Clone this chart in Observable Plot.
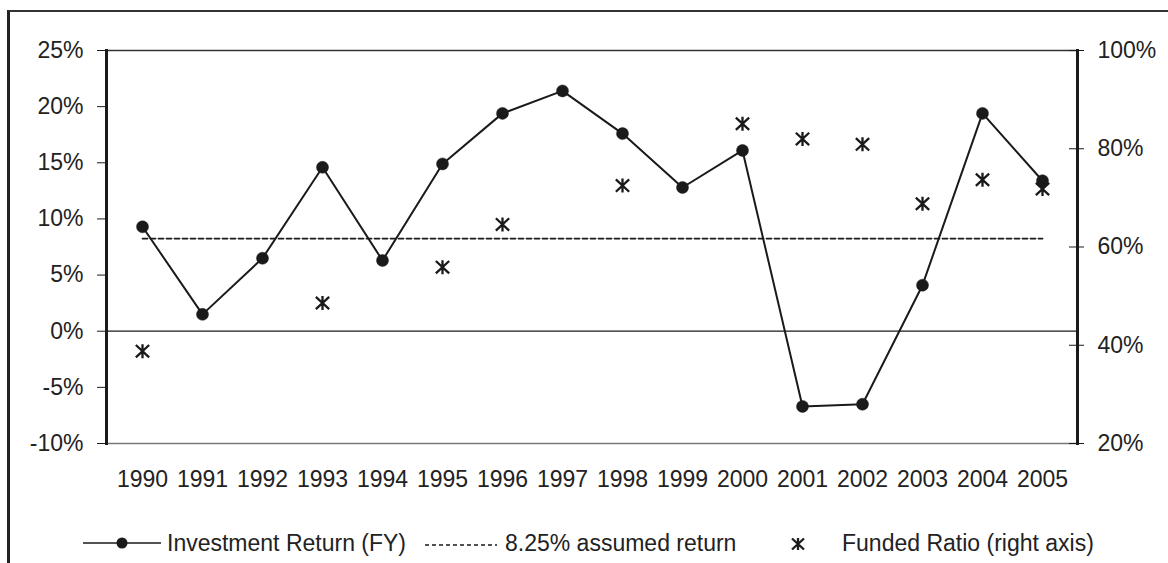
<!DOCTYPE html>
<html>
<head>
<meta charset="utf-8">
<script src="https://cdn.jsdelivr.net/npm/d3@7"></script>
<script src="https://cdn.jsdelivr.net/npm/@observablehq/plot@0.6"></script>
<style>
  html, body { margin: 0; padding: 0; background: #fff; }
  #wrap { position: relative; width: 1168px; height: 563px; overflow: hidden; background: #fff;
          font-family: "Liberation Sans", Arial, sans-serif; color: #222; }
  #outer { position: absolute; left: 7px; top: 10px; width: 1300px; height: 700px;
           border-left: 3px solid #222; border-top: 2px solid #333; }
  #chart { position: absolute; left: 0; top: 0; }
  #legend { position: absolute; left: 0; top: 528px; width: 1168px; height: 30px; font-size: 23px; }
  .li { position: absolute; top: 0; height: 30px; display: flex; align-items: center; white-space: nowrap; }
</style>
</head>
<body>
<div id="wrap">
  <div id="outer"></div>
  <div id="chart"></div>
  <div id="legend"></div>
</div>
<script>
// ---- data ----
const years = ["1990","1991","1992","1993","1994","1995","1996","1997","1998","1999","2000","2001","2002","2003","2004","2005"];
const investmentReturn = [9.3, 1.5, 6.5, 14.6, 6.3, 14.9, 19.4, 21.4, 17.6, 12.8, 16.1, -6.7, -6.5, 4.1, 19.4, 13.4];
const assumedReturn = 8.25;
const fundedRatio = [38.8, null, null, 48.6, null, 55.9, 64.6, null, 72.5, null, 85.1, 82.0, 80.9, 68.8, 73.7, 71.8];
const leftTicks = [-10, -5, 0, 5, 10, 15, 20, 25];
const rightTicks = [20, 40, 60, 80, 100];
const leftDomain = [-10, 25];
const rightDomain = [20, 100];

// map right-axis values onto the left scale
const toLeft = r => leftDomain[0] + (r - rightDomain[0]) * (leftDomain[1] - leftDomain[0]) / (rightDomain[1] - rightDomain[0]);
const toRight = l => rightDomain[0] + (l - leftDomain[0]) * (rightDomain[1] - rightDomain[0]) / (leftDomain[1] - leftDomain[0]);

const returns = years.map((y, i) => ({year: y, value: investmentReturn[i]}));
const assumed = years.map(y => ({year: y, value: assumedReturn}));
const funded = years.map((y, i) => ({year: y, value: fundedRatio[i]})).filter(d => d.value != null);

// custom star marker (X with a vertical bar)
const star = {
  draw(ctx, size) {
    const r = Math.sqrt(size / Math.PI);
    const a = r * 0.95, b = r * 0.88;
    ctx.moveTo(0, -r); ctx.lineTo(0, r);
    ctx.moveTo(-a, -b); ctx.lineTo(a, b);
    ctx.moveTo(-a, b); ctx.lineTo(a, -b);
  }
};

const ink = "#1a1a1a";
const FS = 23;
const chart = Plot.plot({
  width: 1168,
  height: 515,
  marginLeft: 106,
  marginRight: 91,
  marginTop: 50,
  marginBottom: 72,
  style: {fontFamily: "'Liberation Sans', Arial, sans-serif", fontSize: FS + "px", background: "transparent", color: "#222", overflow: "visible"},
  x: {type: "point", domain: years, padding: 0.5},
  y: {domain: leftDomain},
  marks: [
    Plot.frame({anchor: "top", stroke: "#333", strokeWidth: 1.3}),
    Plot.frame({anchor: "bottom", stroke: "#777", strokeWidth: 1.3}),
    Plot.ruleY([0], {stroke: ink, strokeWidth: 1.2}),
    Plot.axisX({tickSize: 0, tickPadding: 27, fontSize: FS, label: null}),
    Plot.axisY(leftTicks, {anchor: "left", tickSize: 9, tickPadding: 14, fontSize: FS, label: null,
      tickFormat: d => d + "%", stroke: ink}),
    Plot.axisY(rightTicks.map(toLeft), {anchor: "right", tickSize: 6, tickPadding: 14, fontSize: FS, label: null,
      tickFormat: d => Math.round(toRight(d)) + "%", stroke: ink}),
    Plot.axisY(rightTicks.map(toLeft), {anchor: "right", tickSize: -9, label: null,
      tickFormat: () => "", stroke: ink}),
    Plot.frame({anchor: "left", stroke: ink, strokeWidth: 3}),
    Plot.frame({anchor: "right", stroke: ink, strokeWidth: 3}),
    Plot.line(assumed, {x: "year", y: "value", stroke: ink, strokeWidth: 1.8, strokeDasharray: "5,3"}),
    Plot.line(returns, {x: "year", y: "value", stroke: ink, strokeWidth: 2}),
    Plot.dot(returns, {x: "year", y: "value", r: 6, fill: ink, stroke: ink, strokeWidth: 0.5}),
    Plot.dot(funded, {x: "year", y: d => toLeft(d.value), symbol: star, r: 7, stroke: ink, strokeWidth: 2.3, fill: "none"})
  ]
});
document.getElementById("chart").appendChild(chart);

// ---- legend ----
const legend = document.getElementById("legend");
const items = [
  {left: 83, svg: `<svg width="78" height="30"><line x1="0" y1="15" x2="78" y2="15" stroke="${ink}" stroke-width="1.6"/><circle cx="39" cy="15" r="5.5" fill="${ink}"/></svg>`, label: "Investment Return (FY)", gap: 6},
  {left: 425, svg: `<svg width="72" height="30"><line x1="0" y1="17" x2="72" y2="17" stroke="${ink}" stroke-width="1.6" stroke-dasharray="4,3"/></svg>`, label: "8.25% assumed return", gap: 8},
  {left: 789, svg: `<svg width="18" height="30"><path d="M9,10L9,22M3,10.5L15,21.5M3,21.5L15,10.5" stroke="${ink}" stroke-width="2.3" fill="none"/></svg>`, label: "Funded Ratio (right axis)", gap: 35}
];
for (const it of items) {
  const el = document.createElement("div");
  el.className = "li";
  el.style.left = it.left + "px";
  el.innerHTML = it.svg + `<span style="margin-left:${it.gap}px">${it.label}</span>`;
  legend.appendChild(el);
}
</script>
</body>
</html>
